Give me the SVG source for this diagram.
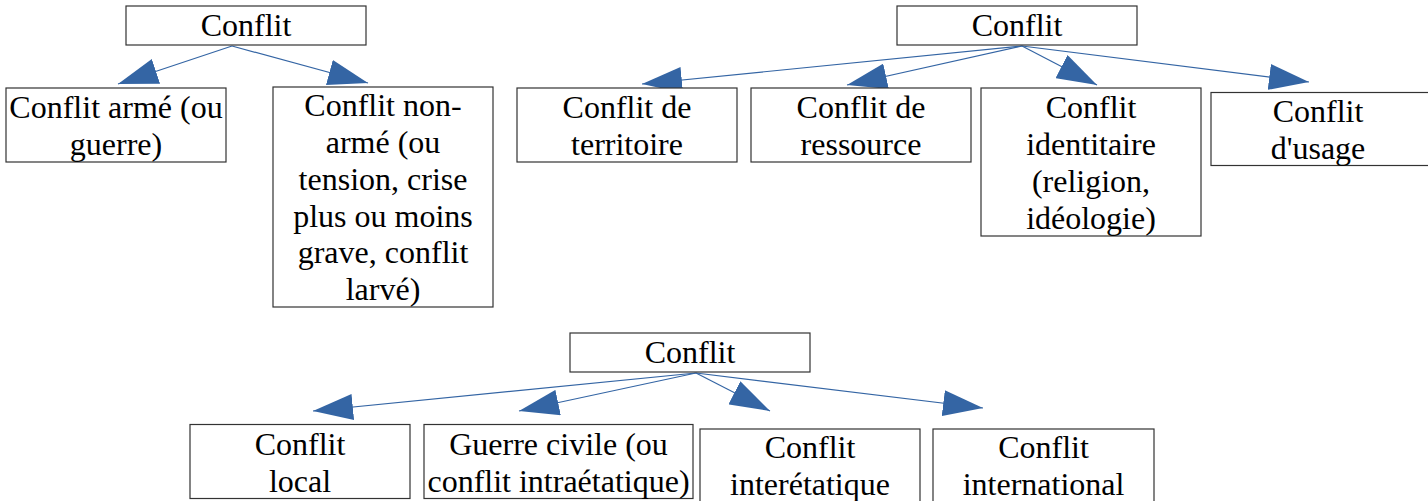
<svg xmlns="http://www.w3.org/2000/svg" width="1428" height="501" viewBox="0 0 1428 501">
<defs>
<style>
.box{fill:#fff;stroke:#333;stroke-width:1.2}
.t{font-family:"Liberation Serif",serif;font-size:32px;fill:#000;text-anchor:middle}
.c{stroke:#3465a4;stroke-width:1.2;fill:none;marker-end:url(#ah)}
</style>
<marker id="ah" markerUnits="userSpaceOnUse" markerWidth="40" markerHeight="26" viewBox="0 0 40 26" refX="40" refY="13" orient="auto">
<path d="M0,0 L40,13 L0,26 Z" fill="#3465a4"/>
</marker>
</defs>
<rect width="1428" height="501" fill="#fff"/>
<g id="connectors">
<line class="c" x1="232" y1="46" x2="118" y2="84"/>
<line class="c" x1="232" y1="46" x2="368" y2="83"/>
<line class="c" x1="1022" y1="46" x2="642" y2="84"/>
<line class="c" x1="1022" y1="46" x2="847" y2="85"/>
<line class="c" x1="1022" y1="46" x2="1097" y2="85"/>
<line class="c" x1="1022" y1="46" x2="1309" y2="82"/>
<line class="c" x1="696" y1="373" x2="313" y2="411"/>
<line class="c" x1="696" y1="373" x2="519" y2="411"/>
<line class="c" x1="696" y1="373" x2="770" y2="411"/>
<line class="c" x1="696" y1="373" x2="983" y2="408"/>
</g>
<g id="root1"><rect class="box" x="126" y="6" width="240" height="39"/><text class="t" x="246" y="36">Conflit</text></g>
<g id="arme"><rect class="box" x="6" y="88" width="220" height="74"/><text class="t" x="116" y="118">Conflit armé (ou</text><text class="t" x="116" y="155">guerre)</text></g>
<g id="nonarme"><rect class="box" x="273" y="87" width="220" height="220"/>
<text class="t" x="383" y="116">Conflit non-</text>
<text class="t" x="383" y="153">armé (ou</text>
<text class="t" x="383" y="190">tension, crise</text>
<text class="t" x="383" y="226.5">plus ou moins</text>
<text class="t" x="383" y="263">grave, conflit</text>
<text class="t" x="383" y="300">larvé)</text></g>
<g id="root2"><rect class="box" x="897" y="6" width="240" height="39"/><text class="t" x="1017" y="36">Conflit</text></g>
<g id="territoire"><rect class="box" x="517" y="88" width="220" height="74"/><text class="t" x="627" y="118">Conflit de</text><text class="t" x="627" y="155">territoire</text></g>
<g id="ressource"><rect class="box" x="751" y="88" width="220" height="74"/><text class="t" x="861" y="118">Conflit de</text><text class="t" x="861" y="155">ressource</text></g>
<g id="identitaire"><rect class="box" x="981" y="88" width="220" height="148"/>
<text class="t" x="1091" y="118">Conflit</text>
<text class="t" x="1091" y="155">identitaire</text>
<text class="t" x="1091" y="192">(religion,</text>
<text class="t" x="1091" y="228.5">idéologie)</text></g>
<g id="usage"><rect class="box" x="1211" y="92.5" width="220" height="73"/><text class="t" x="1318" y="122">Conflit</text><text class="t" x="1318" y="158.5">d'usage</text></g>
<g id="root3"><rect class="box" x="570" y="333" width="240" height="39"/><text class="t" x="690" y="363">Conflit</text></g>
<g id="local"><rect class="box" x="190" y="424.5" width="220" height="74"/><text class="t" x="300" y="455">Conflit</text><text class="t" x="300" y="492">local</text></g>
<g id="civile"><rect class="box" x="424" y="424.5" width="269" height="74"/><text class="t" x="558.5" y="455">Guerre civile (ou</text><text class="t" x="558.5" y="492">conflit intraétatique)</text></g>
<g id="interetatique"><rect class="box" x="700" y="429" width="220" height="80"/><text class="t" x="810" y="458">Conflit</text><text class="t" x="810" y="495">interétatique</text></g>
<g id="international"><rect class="box" x="933" y="429" width="221" height="80"/><text class="t" x="1043.5" y="458">Conflit</text><text class="t" x="1043.5" y="495">international</text></g>
</svg>
